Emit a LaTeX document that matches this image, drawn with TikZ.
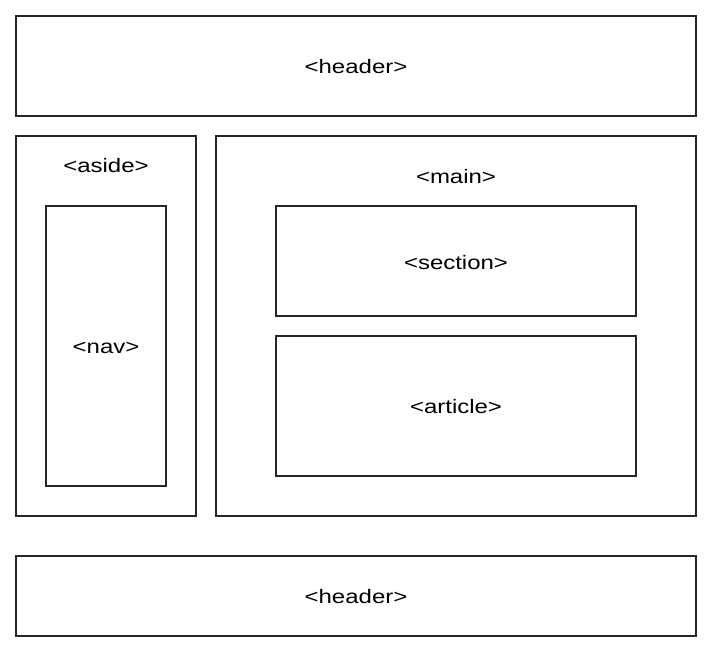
\documentclass[tikz,border=0pt]{standalone}
\usepackage{fontspec}
\setmainfont{Liberation Sans}
\newcommand{\tagtext}[1]{\scalebox{1.23}[1]{\fontsize{19.5}{22}\selectfont #1}}
\begin{document}
\begin{tikzpicture}[x=1pt,y=-1pt,
  region/.style={draw=black!85,line width=2pt},
  tag/.style={inner sep=0pt,font=\fontsize{19.5}{22}\selectfont}]
\useasboundingbox[fill=white] (0,0) rectangle (714,654);
% page regions
\draw[region] (16,16) rectangle (696,116);
\draw[region] (16,136) rectangle (196,516);
\draw[region] (46,206) rectangle (166,486);
\draw[region] (216,136) rectangle (696,516);
\draw[region] (276,206) rectangle (636,316);
\draw[region] (276,336) rectangle (636,476);
\draw[region] (16,556) rectangle (696,636);
% labels
\node[tag] (header) at (356,67) {\tagtext{<header>}};
\node[tag] (aside) at (106,166) {\tagtext{<aside>}};
\node[tag] (nav) at (106,348) {\tagtext{<nav>}};
\node[tag] (main) at (456,177) {\tagtext{<main>}};
\node[tag] (section) at (456,263) {\tagtext{<section>}};
\node[tag] (article) at (456,407) {\tagtext{<article>}};
\node[tag] (footer) at (356,597) {\tagtext{<header>}};
\end{tikzpicture}
\end{document}
